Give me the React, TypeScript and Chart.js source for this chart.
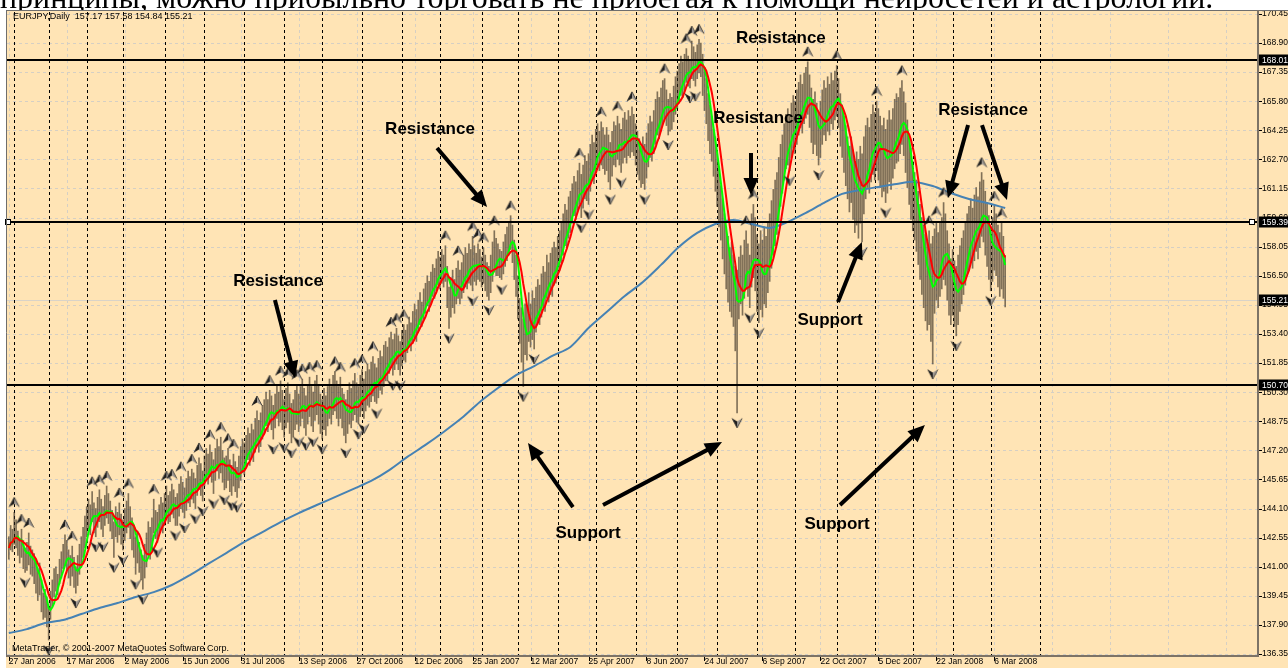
import React, { useEffect, useRef } from 'react';
import { Chart, registerables } from 'chart.js';

Chart.register(...registerables);

// ---------------- text ----------------
const captionText = 'принципы, можно прибыльно торговать не прибегая к помощи нейросетей и астрологии.';
const symbolInfo = 'EURJPY,Daily  157.17 157.58 154.84 155.21';
const copyrightText = 'MetaTrader, © 2001-2007 MetaQuotes Software Corp.';

// ---------------- daily bars (high / low) ----------------
const barHigh = [
  142.6,143.2,143.0,143.9,143.5,142.9,142.5,143.0,142.4,142.0,
  142.3,142.8,142.1,141.9,141.7,141.4,140.9,141.2,140.3,139.6,
  139.8,139.4,138.9,139.7,140.3,140.9,141.0,140.6,141.4,141.8,
  142.2,142.7,142.4,141.9,141.6,142.1,141.5,141.0,141.6,142.2,
  142.6,143.1,143.7,144.2,144.6,144.3,145.0,144.4,144.1,144.7,
  145.1,144.6,144.2,144.8,145.3,144.9,144.5,144.0,143.4,144.2,
  143.9,144.4,143.8,143.5,144.1,144.5,144.9,144.2,143.6,143.2,
  142.6,142.9,142.3,141.9,141.6,142.2,142.8,143.4,143.1,143.6,
  144.6,144.0,143.9,144.3,144.7,144.4,144.9,145.3,144.8,145.0,
  145.4,145.1,144.7,144.9,145.4,145.8,145.5,145.2,145.7,146.1,
  145.8,146.2,146.0,145.7,146.4,146.8,146.5,146.1,146.9,147.3,
  147.0,147.5,147.1,146.7,147.3,147.8,147.4,147.9,147.2,146.8,
  146.9,147.3,146.7,146.4,147.0,146.6,146.3,146.9,147.4,147.8,
  147.6,148.0,148.4,148.1,148.6,148.3,148.9,149.3,148.8,149.2,
  149.6,149.9,150.3,149.9,150.4,150.1,149.6,150.2,150.7,150.3,
  150.9,150.4,149.9,150.5,150.8,150.2,149.7,149.9,150.4,150.7,
  150.2,150.6,151.0,150.5,150.1,150.7,151.1,150.6,150.3,150.9,
  151.2,150.7,150.2,149.9,150.5,150.1,150.6,151.0,150.6,151.2,
  151.4,150.9,150.6,151.1,150.5,150.2,149.9,150.4,150.8,150.5,
  150.9,151.3,150.8,150.6,151.2,151.5,151.0,151.4,151.8,151.5,
  151.9,152.2,151.8,151.6,152.1,152.5,152.2,152.8,153.0,152.7,
  153.2,153.5,153.1,153.4,153.7,153.3,153.0,153.6,153.9,153.6,
  153.9,154.3,154.0,154.6,155.0,154.7,155.2,155.6,155.1,155.8,
  156.1,156.5,156.2,156.7,157.1,156.9,157.4,157.8,157.5,157.9,
  157.6,158.1,157.0,155.9,156.4,156.8,156.3,156.9,157.3,156.8,
  157.2,157.6,158.0,157.7,158.2,157.9,158.6,158.1,157.7,158.2,
  157.9,157.5,158.0,157.6,157.2,157.0,157.6,158.3,158.9,158.5,
  158.2,157.9,157.8,158.3,158.7,159.1,159.4,159.7,159.2,158.4,
  157.6,156.5,155.3,154.8,154.2,155.0,154.9,155.6,155.0,155.7,
  155.3,155.9,156.3,156.0,156.6,157.0,156.7,157.6,157.2,157.7,
  158.0,158.3,158.0,158.6,158.9,159.4,159.8,160.3,160.0,160.7,
  161.0,161.4,161.8,161.5,162.1,162.5,161.9,162.4,162.9,162.6,
  163.0,163.5,164.0,163.6,164.3,164.6,164.2,164.7,164.4,164.0,
  164.4,164.0,163.6,164.2,164.7,164.5,165.0,164.6,164.3,164.9,
  165.2,164.8,165.3,165.0,165.5,165.1,164.6,164.2,163.8,163.4,
  163.9,163.5,164.1,164.6,165.0,164.7,165.3,165.9,166.3,166.0,
  166.5,166.9,167.0,166.4,165.9,166.2,166.0,166.6,167.1,167.4,
  167.8,168.2,167.9,168.3,168.6,168.2,168.0,169.0,168.7,168.4,
  168.8,169.1,168.9,168.3,167.6,167.0,166.2,165.6,165.0,164.3,
  163.9,163.0,162.2,161.3,160.6,159.8,159.1,158.6,158.0,158.3,
  157.6,157.0,156.8,157.5,158.1,157.6,158.4,158.9,158.2,157.6,
  159.8,160.3,159.6,158.7,158.2,158.9,158.4,159.1,158.6,159.3,
  159.8,160.5,161.1,161.6,162.0,162.8,163.5,164.0,164.6,165.1,
  165.4,165.0,165.7,166.1,165.8,166.4,166.8,167.2,166.7,167.3,
  167.6,167.9,167.2,166.5,165.9,166.3,165.7,165.2,165.8,166.4,
  166.9,166.5,167.1,166.7,167.3,166.9,167.4,167.7,167.0,166.2,
  165.6,165.0,164.5,163.9,163.4,163.9,163.2,162.6,163.1,162.7,
  163.4,163.0,163.9,164.5,164.9,164.4,165.1,165.6,165.2,165.8,
  165.4,165.0,164.5,164.9,164.3,164.8,165.3,164.8,165.4,165.9,
  166.2,166.0,166.5,166.9,166.3,165.7,164.8,164.0,163.3,162.6,
  162.0,161.6,161.0,160.3,159.6,159.2,158.7,158.4,158.9,158.2,
  158.6,159.0,159.4,158.8,159.3,159.6,160.4,159.8,158.9,158.2,
  157.4,157.9,157.3,157.0,157.6,158.1,158.5,158.9,159.4,159.8,
  160.2,160.6,160.1,160.8,161.2,160.7,161.5,162.0,161.6,161.0,
  160.4,159.7,159.1,159.6,160.2,159.8,159.2,158.8,159.3,158.6,157.58,
];

const barLow = [
  141.4,141.9,141.8,142.2,142.0,141.6,141.2,141.5,140.9,140.7,
  140.8,141.1,140.6,140.5,140.1,139.6,139.2,139.5,138.6,138.2,
  138.3,137.8,137.1,138.2,138.9,139.4,139.7,139.5,140.1,140.4,
  140.9,141.1,140.8,140.4,140.0,140.5,139.9,139.6,140.0,140.6,
  141.0,141.5,142.0,142.6,143.0,142.7,143.4,142.8,142.6,143.1,
  143.4,143.0,142.6,143.2,143.6,143.3,142.9,142.5,141.5,142.6,
  142.3,142.7,142.2,141.9,142.4,142.8,143.1,142.5,141.9,141.5,
  140.6,141.2,140.7,140.3,139.8,140.4,141.0,141.6,141.4,141.9,
  142.8,142.5,142.3,142.7,143.0,142.8,143.2,143.6,143.3,143.4,
  143.8,143.6,143.2,143.2,143.7,144.1,143.9,143.6,144.0,144.4,
  144.2,144.6,144.4,144.1,144.8,145.1,144.8,144.5,145.3,145.6,
  145.4,145.8,145.5,144.9,145.6,146.1,145.7,146.0,145.5,145.1,
  145.2,145.6,145.0,144.8,145.3,145.0,144.7,145.2,145.6,146.0,
  145.9,146.3,146.7,146.4,146.8,146.6,147.1,147.5,147.1,147.4,
  147.8,148.1,148.5,148.2,148.6,148.3,147.8,148.4,148.9,148.5,
  148.7,148.3,147.9,148.4,148.7,148.1,147.6,147.9,148.3,148.6,
  148.2,148.5,148.9,148.4,148.0,148.6,149.0,148.5,148.2,148.8,
  149.1,148.6,148.1,147.8,148.3,148.0,148.5,148.9,148.6,149.1,
  149.3,148.9,148.5,148.9,148.4,148.0,147.6,148.1,148.6,148.4,
  148.8,149.1,148.7,148.6,149.0,149.3,148.9,149.3,149.6,149.5,
  149.8,150.1,149.8,149.7,150.0,150.4,150.2,150.6,150.9,150.9,
  151.3,151.6,151.2,151.5,151.8,151.5,151.2,151.7,152.0,151.9,
  152.4,152.7,152.5,152.9,153.2,153.0,153.5,153.9,153.8,154.2,
  154.5,154.9,154.6,155.0,155.4,155.3,155.7,156.0,155.8,156.1,
  155.9,156.2,154.8,153.7,154.3,154.8,154.5,155.0,155.3,155.0,
  155.3,155.6,155.9,155.8,156.1,156.0,155.7,156.2,156.0,156.3,
  156.2,155.9,156.1,155.7,155.4,155.2,155.6,156.2,156.7,156.5,
  156.5,156.4,156.3,156.6,157.0,157.3,157.6,157.9,157.2,156.3,
  155.4,154.2,152.9,151.9,150.6,152.3,152.0,153.0,152.7,153.1,
  152.6,153.5,154.0,153.9,154.3,154.8,154.6,155.3,155.1,155.5,
  155.4,156.0,156.1,156.4,156.8,157.2,157.6,158.1,158.0,158.5,
  158.8,159.3,159.7,159.5,160.0,160.3,159.6,160.1,160.6,160.5,
  160.3,161.0,161.6,161.4,162.0,162.3,162.1,162.4,162.2,161.9,
  162.1,161.5,161.1,161.8,162.4,162.3,162.7,162.4,162.0,162.5,
  162.8,162.5,162.9,162.8,163.1,162.9,162.4,161.9,161.6,161.2,
  161.4,161.1,161.7,162.3,162.8,162.6,163.0,163.5,164.0,163.8,
  164.2,164.6,164.9,164.5,164.0,164.2,164.3,164.7,165.1,165.4,
  165.7,166.1,166.0,166.4,166.8,166.6,166.5,167.0,166.9,166.6,
  167.0,167.3,167.1,166.1,165.3,164.6,163.7,163.0,162.6,161.8,
  161.0,160.2,159.1,158.4,157.4,156.6,155.8,155.1,154.6,154.3,
  153.8,152.5,149.2,154.2,155.0,154.4,155.3,155.8,155.4,154.8,
  155.9,156.4,155.7,154.6,154.0,154.7,154.3,155.0,154.8,155.6,
  156.2,156.9,157.6,158.1,158.7,159.4,160.2,160.9,161.6,162.2,
  162.4,162.1,162.8,163.3,163.0,163.5,164.0,164.4,164.1,164.6,
  164.9,165.1,164.4,163.6,163.0,163.5,162.9,162.4,162.8,163.5,
  164.0,163.7,164.2,164.0,164.6,164.3,164.8,165.0,164.4,163.4,
  162.8,162.0,161.3,160.6,159.9,160.4,159.5,158.8,159.2,158.5,
  159.3,158.3,159.8,160.6,161.2,160.9,161.5,161.9,161.6,162.1,
  161.6,161.2,160.7,161.0,160.4,160.9,161.5,161.1,161.7,162.2,
  162.5,162.6,163.0,163.5,162.9,162.0,161.2,160.3,159.5,158.9,
  158.4,157.8,157.1,156.3,155.5,154.8,154.1,153.6,153.9,153.0,
  151.8,154.5,155.2,154.8,155.4,155.8,156.3,156.0,155.2,154.4,
  153.9,154.4,153.8,153.3,153.9,154.6,155.0,155.5,156.0,156.5,
  156.8,157.2,156.9,157.3,157.8,157.4,158.0,158.6,158.3,157.6,
  157.0,156.3,155.7,156.2,156.8,156.5,155.9,155.4,155.8,155.3,154.84,
];

// long moving average (blue), read every 10 bars
const slowMaBars = [0,10,20,30,40,50,60,70,80,90,100,110,120,130,140,150,160,170,180,190,200,210,220,230,240,250,260,270,280,290,300,310,320,330,340,350,360,370,380,390,400,410,420,430,440,450,460,470,480,490,500,510,520,530,540,550];
const slowMaValues = [137.47,137.68,138.00,138.16,138.48,138.80,139.07,139.39,139.65,140.03,140.56,141.15,141.73,142.32,142.85,143.38,143.86,144.29,144.71,145.14,145.57,146.15,146.85,147.49,148.18,148.92,149.78,150.52,151.21,151.69,152.23,152.71,153.72,154.57,155.42,156.17,157.08,158.04,158.78,159.26,159.47,159.26,159.05,159.37,159.85,160.38,160.86,161.07,161.23,161.39,161.50,161.28,160.91,160.59,160.38,160.11];

const fastMaPeriod = 5;
const midMaPeriod = 9;

// ---------------- axes ----------------
const dateLabels = ['27 Jan 2006','17 Mar 2006','2 May 2006','15 Jun 2006','31 Jul 2006','13 Sep 2006','27 Oct 2006','12 Dec 2006','25 Jan 2007','12 Mar 2007','25 Apr 2007','8 Jun 2007','24 Jul 2007','6 Sep 2007','22 Oct 2007','5 Dec 2007','22 Jan 2008','6 Mar 2008'];
const dateLabelBars = [0,32,64,96,128,160,192,224,256,288,320,352,384,416,448,480,512,544];
const gridBars = [0,32,64,96,128,160,192,224,256,288,320,352,384,416,448,480,512,544,576,608,640,672];
const monthSeparatorBars = [3,22,43,63,86,108,130,152,173,195,217,238,261,281,303,324,346,369,391,413,434,457,478,499,521,542,569];
const priceTicks = [136.35,137.90,139.45,141.00,142.55,144.10,145.65,147.20,148.75,150.30,151.85,153.40,154.95,156.50,158.05,159.60,161.15,162.70,164.25,165.80,167.35,168.90,170.45];
const levelPrices = [168.01, 159.39, 150.70];
const selectedLevel = 159.39;
const lastPrice = 155.21;

// ---------------- annotations (bar index, price) ----------------
const noteLabels = [
  { text: 'Resistance', bar: 426.2, price: 169.17 },
  { text: 'Resistance', bar: 232.5, price: 164.32 },
  { text: 'Resistance', bar: 148.6, price: 156.22 },
  { text: 'Resistance', bar: 413.6, price: 164.91 },
  { text: 'Resistance', bar: 537.8, price: 165.33 },
  { text: 'Support', bar: 453.3, price: 154.14 },
  { text: 'Support', bar: 319.7, price: 142.80 },
  { text: 'Support', bar: 457.2, price: 143.28 },
];
const noteArrows = [
  [236.4, 163.31, 264.0, 160.16],
  [146.9, 155.21, 158.0, 151.05],
  [409.7, 163.04, 409.7, 160.80],
  [529.5, 164.53, 518.4, 160.64],
  [537.2, 164.53, 551.0, 160.54],
  [457.7, 155.10, 470.9, 158.30],
  [311.4, 144.18, 286.6, 147.59],
  [328.0, 144.29, 393.7, 147.64],
  [458.8, 144.29, 505.7, 148.55],
];

const BG = '#ffe4b5';
const GRID = '#d5cfc4';
const SANS = '"Liberation Sans", Arial, sans-serif';

function sma(src: number[], n: number) {
  return src.map((_, i) => {
    const s = Math.max(0, i - n + 1);
    let sum = 0;
    for (let k = s; k <= i; k++) sum += src[k];
    return sum / (i - s + 1);
  });
}

function makeFractalGlyph(up: boolean) {
  const c = document.createElement('canvas');
  c.width = 12;
  c.height = 40;
  const g = c.getContext('2d')!;
  const cy = up ? 10 : 30;
  const s = up ? 1 : -1;
  g.beginPath();
  g.moveTo(6, cy - 5 * s);
  g.lineTo(1, cy + 4.5 * s);
  g.lineTo(6, cy + 1.5 * s);
  g.closePath();
  g.fillStyle = '#1c1c1c';
  g.fill();
  g.beginPath();
  g.moveTo(6, cy - 5 * s);
  g.lineTo(11, cy + 4.5 * s);
  g.lineTo(6, cy + 1.5 * s);
  g.closePath();
  g.fillStyle = '#a29b94';
  g.fill();
  g.strokeStyle = '#2a2a2a';
  g.lineWidth = 0.8;
  g.beginPath();
  g.moveTo(1, cy + 4.5 * s);
  g.lineTo(6, cy - 5 * s);
  g.lineTo(11, cy + 4.5 * s);
  g.stroke();
  return c;
}

const mt4Plugin = {
  id: 'mt4frame',
  beforeDraw(chart: any) {
    const { ctx, width, height } = chart;
    ctx.save();
    ctx.fillStyle = '#ffffff';
    ctx.fillRect(0, 0, width, height);
    ctx.font = '100px "Liberation Serif", "Times New Roman", serif';
    const w100 = ctx.measureText(captionText).width;
    const size = (100 * 1214) / w100;
    ctx.font = `${size}px "Liberation Serif", "Times New Roman", serif`;
    ctx.fillStyle = '#000';
    ctx.textAlign = 'left';
    ctx.textBaseline = 'alphabetic';
    ctx.fillText(captionText, 0, 7.5);
    ctx.fillStyle = BG;
    ctx.fillRect(6, 10, width - 6, height - 10);
    ctx.restore();
  },
  beforeDatasetsDraw(chart: any) {
    const { ctx, chartArea: a, scales } = chart;
    const x = scales.x;
    const y = scales.y;
    ctx.save();
    ctx.lineWidth = 1;
    ctx.strokeStyle = GRID;
    ctx.setLineDash([3, 3]);
    ctx.beginPath();
    for (const b of gridBars) {
      const px = Math.round(x.getPixelForValue(b)) + 0.5;
      ctx.moveTo(px, a.top);
      ctx.lineTo(px, a.bottom);
    }
    for (const p of priceTicks) {
      const py = Math.round(y.getPixelForValue(p)) + 0.5;
      ctx.moveTo(a.left, py);
      ctx.lineTo(a.right, py);
    }
    ctx.stroke();
    ctx.setLineDash([]);
    ctx.strokeStyle = '#d9d3c8';
    ctx.beginPath();
    const lp = Math.round(y.getPixelForValue(lastPrice)) + 0.5;
    ctx.moveTo(a.left, lp);
    ctx.lineTo(a.right, lp);
    ctx.stroke();
    ctx.strokeStyle = '#000';
    ctx.setLineDash([3, 3]);
    ctx.beginPath();
    for (const b of monthSeparatorBars) {
      const px = Math.round(x.getPixelForValue(b)) + 0.5;
      ctx.moveTo(px, a.top);
      ctx.lineTo(px, a.bottom);
    }
    ctx.stroke();
    ctx.restore();
  },
  afterDatasetsDraw(chart: any) {
    const { ctx, chartArea: a, scales, width } = chart;
    const x = scales.x;
    const y = scales.y;
    ctx.save();
    // horizontal levels
    ctx.strokeStyle = '#000';
    ctx.lineWidth = 2;
    for (const p of levelPrices) {
      const py = Math.round(y.getPixelForValue(p));
      ctx.beginPath();
      ctx.moveTo(6, py);
      ctx.lineTo(a.right, py);
      ctx.stroke();
    }
    const sy = Math.round(y.getPixelForValue(selectedLevel));
    ctx.lineWidth = 1;
    ctx.fillStyle = '#fff';
    for (const hx of [8, a.right - 5]) {
      ctx.fillRect(hx - 2.5, sy - 2.5, 5, 5);
      ctx.strokeRect(hx - 2.5, sy - 2.5, 5, 5);
    }
    // frame
    ctx.strokeStyle = '#6e6e6e';
    ctx.lineWidth = 1;
    ctx.beginPath();
    ctx.moveTo(6, 10.5);
    ctx.lineTo(width, 10.5);
    ctx.moveTo(6.5, 10);
    ctx.lineTo(6.5, a.bottom);
    ctx.stroke();
    ctx.strokeStyle = '#7d7366';
    ctx.lineWidth = 2;
    ctx.beginPath();
    ctx.moveTo(a.right + 1, 10);
    ctx.lineTo(a.right + 1, a.bottom + 1);
    ctx.lineTo(6, a.bottom + 1);
    ctx.stroke();
    // tick marks
    ctx.strokeStyle = '#000';
    ctx.lineWidth = 1;
    ctx.beginPath();
    for (const p of priceTicks) {
      const py = Math.round(y.getPixelForValue(p)) + 0.5;
      ctx.moveTo(a.right + 2, py);
      ctx.lineTo(a.right + 5, py);
    }
    for (const b of dateLabelBars) {
      const px = Math.round(x.getPixelForValue(b)) + 0.5;
      ctx.moveTo(px, a.bottom + 2);
      ctx.lineTo(px, a.bottom + 6);
    }
    ctx.stroke();
    // price boxes
    ctx.font = `8.5px ${SANS}`;
    ctx.textAlign = 'left';
    ctx.textBaseline = 'middle';
    for (const p of [...levelPrices, lastPrice]) {
      const py = Math.round(y.getPixelForValue(p));
      ctx.fillStyle = '#000';
      ctx.fillRect(a.right + 2, py - 5.5, width - a.right - 2, 11);
      ctx.fillStyle = '#fff';
      ctx.fillText(p.toFixed(2), a.right + 5, py + 0.5);
    }
    // info texts
    ctx.fillStyle = '#000';
    ctx.font = `9px ${SANS}`;
    ctx.fillText(symbolInfo, 13, 17);
    ctx.fillText(copyrightText, 12, a.bottom - 6);
    // annotations
    ctx.font = `bold 17px ${SANS}`;
    ctx.textAlign = 'center';
    ctx.textBaseline = 'middle';
    for (const n of noteLabels) {
      ctx.fillText(n.text, x.getPixelForValue(n.bar), y.getPixelForValue(n.price));
    }
    for (const [b0, p0, b1, p1] of noteArrows) {
      const x0 = x.getPixelForValue(b0);
      const y0 = y.getPixelForValue(p0);
      const x1 = x.getPixelForValue(b1);
      const y1 = y.getPixelForValue(p1);
      const ang = Math.atan2(y1 - y0, x1 - x0);
      const hl = 17;
      const hw = 7.5;
      const bx = x1 - hl * Math.cos(ang);
      const by = y1 - hl * Math.sin(ang);
      ctx.strokeStyle = '#000';
      ctx.lineWidth = 4;
      ctx.beginPath();
      ctx.moveTo(x0, y0);
      ctx.lineTo(bx + 2 * Math.cos(ang), by + 2 * Math.sin(ang));
      ctx.stroke();
      ctx.beginPath();
      ctx.moveTo(x1, y1);
      ctx.lineTo(bx - hw * Math.sin(ang), by + hw * Math.cos(ang));
      ctx.lineTo(bx + hw * Math.sin(ang), by - hw * Math.cos(ang));
      ctx.closePath();
      ctx.fill();
    }
    ctx.restore();
  },
};

export default function App() {
  const ref = useRef<HTMLCanvasElement | null>(null);

  useEffect(() => {
    if (!ref.current) return;
    const median = barHigh.map((h, i) => (h + barLow[i]) / 2);
    const fastMa = sma(median, fastMaPeriod);
    const midMa = sma(median, midMaPeriod);
    const upFr: { x: number; y: number }[] = [];
    const dnFr: { x: number; y: number }[] = [];
    for (let i = 2; i < barHigh.length - 2; i++) {
      const h = barHigh[i];
      if (h > barHigh[i - 1] && h > barHigh[i - 2] && h >= barHigh[i + 1] && h >= barHigh[i + 2]) upFr.push({ x: i, y: h });
      const l = barLow[i];
      if (l < barLow[i - 1] && l < barLow[i - 2] && l <= barLow[i + 1] && l <= barLow[i + 2]) dnFr.push({ x: i, y: l });
    }
    const upGlyph = makeFractalGlyph(true);
    const dnGlyph = makeFractalGlyph(false);

    const chart = new Chart(ref.current, {
      type: 'bar',
      data: {
        datasets: [
          {
            type: 'bar',
            data: barHigh.map((h, i) => ({ x: i, y: [barLow[i], h] })) as any,
            backgroundColor: 'rgba(45,36,26,0.6)',
            borderWidth: 0,
            barThickness: 1,
            order: 6,
          } as any,
          {
            type: 'line',
            data: slowMaBars.map((b, k) => ({ x: b, y: slowMaValues[k] })),
            borderColor: '#4682b4',
            borderWidth: 2,
            pointRadius: 0,
            tension: 0.3,
            order: 5,
          },
          {
            type: 'line',
            data: fastMa.map((v, i) => ({ x: i, y: v })),
            borderColor: '#00ff00',
            borderWidth: 2,
            pointRadius: 0,
            order: 4,
          },
          {
            type: 'line',
            data: midMa.map((v, i) => ({ x: i, y: v })),
            borderColor: '#ff0000',
            borderWidth: 2,
            pointRadius: 0,
            order: 3,
          },
          {
            type: 'scatter',
            data: upFr,
            pointStyle: upGlyph as any,
            pointRadius: 5,
            order: 2,
          },
          {
            type: 'scatter',
            data: dnFr,
            pointStyle: dnGlyph as any,
            pointRadius: 5,
            order: 1,
          },
        ],
      },
      options: {
        animation: false,
        responsive: false,
        devicePixelRatio: 1,
        events: [],
        layout: { padding: { left: 7, top: 12, right: 0, bottom: 0 } },
        plugins: { legend: { display: false }, tooltip: { enabled: false } },
        scales: {
          x: {
            type: 'linear',
            offset: false,
            min: -1,
            max: 689,
            afterBuildTicks: (s: any) => {
              s.ticks = gridBars.map((v) => ({ value: v }));
            },
            afterFit: (s: any) => {
              s.height = 13;
            },
            grid: { display: false, drawTicks: true, tickLength: 2 },
            border: { display: false },
            ticks: {
              autoSkip: false,
              maxRotation: 0,
              minRotation: 0,
              align: 'start',
              padding: 0,
              color: '#000',
              font: { size: 8.5, family: SANS },
              callback: (v: any) => {
                const k = dateLabelBars.indexOf(Number(v));
                return k >= 0 ? dateLabels[k] : '';
              },
            },
          },
          y: {
            position: 'right',
            min: 136.3,
            max: 170.55,
            afterBuildTicks: (s: any) => {
              s.ticks = priceTicks.map((v) => ({ value: v }));
            },
            afterFit: (s: any) => {
              s.width = 31;
            },
            grid: { display: false, drawTicks: true, tickLength: 3 },
            border: { display: false },
            ticks: {
              padding: 2,
              color: '#000',
              font: { size: 8.5, family: SANS },
              callback: (v: any) => Number(v).toFixed(2),
            },
          },
        },
      } as any,
      plugins: [mt4Plugin],
    });
    return () => chart.destroy();
  }, []);

  return (
    <div style={{ position: 'fixed', left: 0, top: 0, width: 1288, height: 668, background: '#fff' }}>
      <canvas ref={ref} width={1288} height={668} style={{ display: 'block', width: 1288, height: 668 }} />
    </div>
  );
}
